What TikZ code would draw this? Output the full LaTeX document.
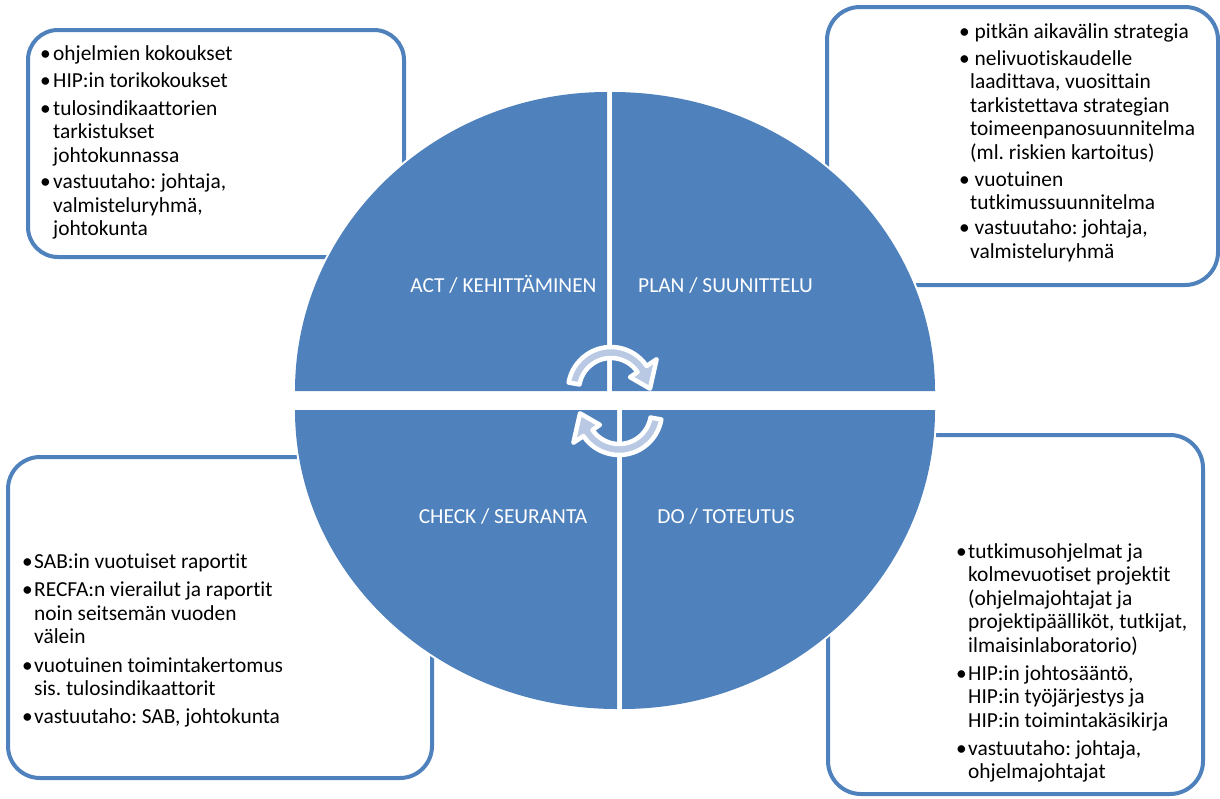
\documentclass[tikz,border=0pt]{standalone}
\usepackage{fontspec}
\setmainfont{Carlito}[Ligatures=NoCommon]
\frenchspacing
\definecolor{pdcablue}{HTML}{4F81BD}
\definecolor{arrowlight}{HTML}{B9C9E3}
\newcommand{\btab}[2]{\begin{tabular}[t]{@{}p{#1}@{}l@{}}#2\end{tabular}}
\begin{document}
\begin{tikzpicture}[x=1pt,y=1pt,
  box/.style={draw=pdcablue, line width=4pt, rounded corners=30pt, fill=white},
  quad/.style={fill=pdcablue, preaction={draw=white, line width=4pt}},
  cyc/.style={fill=arrowlight, draw=white, line width=4.5pt, line join=round},
  txt/.style={inner sep=0pt, anchor=base west, font=\fontsize{21.4}{23.5}\selectfont\frenchspacing},
  lab/.style={inner sep=0pt, anchor=base, text=white, font=\fontsize{21.4}{25}\selectfont}]
\useasboundingbox (0,0) rectangle (1220,-798);
% boxes
\draw[box] (28,-30) rectangle (404,-257);
\draw[box, rounded corners=33pt] (827,-7) rectangle (1218,-285);
\draw[box, rounded corners=32pt] (8,-457) rectangle (432,-778);
\draw[box, rounded corners=33pt] (828,-435) rectangle (1203,-794);
% quadrants
\path[quad] (607,-391) -- (295,-391) arc[start angle=180, end angle=90, x radius=312, y radius=299] -- cycle;
\path[quad] (612,-391) -- (612,-92) arc[start angle=90, end angle=0, x radius=323, y radius=299] -- cycle;
\path[quad] (622,-410) -- (935,-410) arc[start angle=0, end angle=-90, x radius=313, y radius=299] -- cycle;
\path[quad] (617,-410) -- (617,-709) arc[start angle=270, end angle=180, x radius=322, y radius=299] -- cycle;
% cycle arrows
\begin{scope}[shift={(611,-390)}]
\draw[cyc] (170:43) arc[start angle=170, end angle=34, radius=43] -- (34:55) -- (2:39) -- (34:23) -- (34:32) arc[start angle=34, end angle=170, radius=32] -- cycle;
\end{scope}
\begin{scope}[shift={(619,-412)}, rotate=180]
\draw[cyc] (170:43) arc[start angle=170, end angle=34, radius=43] -- (34:55) -- (2:39) -- (34:23) -- (34:32) arc[start angle=34, end angle=170, radius=32] -- cycle;
\end{scope}
% quadrant labels
\node[lab] (act) at (503.5,-292) {ACT / KEHITTÄMINEN};
\node[lab] (plan) at (725.5,-292) {PLAN / SUUNITTELU};
\node[lab] (check) at (503,-523) {CHECK / SEURANTA};
\node[lab] (do) at (726,-523) {DO / TOTEUTUS};
% box texts
\node[txt] (tltext) at (40,-60) {\btab{13pt}{%
• & ohjelmien kokoukset\\[4pt]
• & HIP:in torikokoukset\\[4pt]
• & tulosindikaattorien\\
  & tarkistukset\\
  & johtokunnassa\\[3pt]
• & vastuutaho: johtaja,\\
  & valmisteluryhmä,\\
  & johtokunta}};
\node[txt] (trtext) at (959,-38) {\btab{11pt}{%
• & \hspace{4.5pt}pitkän aikavälin strategia\\[3.5pt]
• & \hspace{4.5pt}nelivuotiskaudelle\\
  & laadittava, vuosittain\\
  & tarkistettava strategian\\
  & toimeenpanosuunnitelma\\
  & (ml. riskien kartoitus)\\[3.5pt]
• & \hspace{4.5pt}vuotuinen\\
  & tutkimussuunnitelma\\[1.5pt]
• & \hspace{4.5pt}vastuutaho: johtaja,\\
  & valmisteluryhmä}};
\node[txt] (bltext) at (22,-568) {\btab{12pt}{%
• & SAB:in vuotuiset raportit\\[5pt]
• & RECFA:n vierailut ja raportit\\
  & noin seitsemän vuoden\\
  & välein\\[5pt]
• & vuotuinen toimintakertomus\\
  & sis. tulosindikaattorit\\[4pt]
• & vastuutaho: SAB, johtokunta}};
\node[txt] (brtext) at (956,-558) {\btab{12pt}{%
• & tutkimusohjelmat ja\\
  & kolmevuotiset projektit\\
  & (ohjelmajohtajat ja\\
  & projektipäälliköt, tutkijat,\\
  & ilmaisinlaboratorio)\\[4.5pt]
• & HIP:in johtosääntö,\\
  & HIP:in työjärjestys ja\\
  & HIP:in toimintakäsikirja\\[4.5pt]
• & vastuutaho: johtaja,\\
  & ohjelmajohtajat}};
\end{tikzpicture}
\end{document}
